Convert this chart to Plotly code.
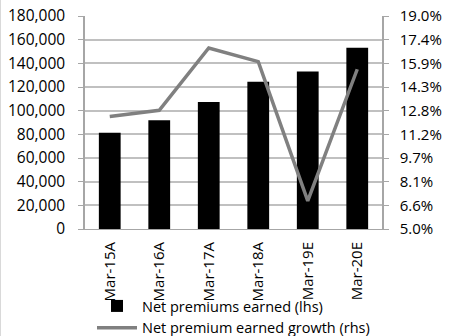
import plotly.graph_objects as go

categories = ["Mar-15A", "Mar-16A", "Mar-17A", "Mar-18A", "Mar-19E", "Mar-20E"]
premiums = [81400, 91800, 107300, 124500, 133200, 153200]
growth = [12.4, 12.8, 16.9, 16.0, 6.85, 15.5]

left_ticks = list(range(0, 180001, 20000))
right_ticks = [5 + i * 14 / 9 for i in range(10)]
right_labels = [f"{v:.1f}%" for v in right_ticks]

FONT = "Open Sans"
FS = 15
fig = go.Figure()
fig.add_trace(go.Bar(x=categories, y=premiums, name="Net premiums earned (lhs)",
                     marker=dict(color="black", line=dict(width=0)), yaxis="y"))
fig.add_trace(go.Scatter(x=categories, y=growth, name="Net premium earned growth (rhs)",
                         mode="lines", line=dict(color="#808080", width=3.5), yaxis="y2"))

W, H = 454, 336
L, R, T, B = 85, 72, 16, 107
pw, ph = W - L - R, H - T - B

fig.update_layout(
    width=W, height=H,
    margin=dict(l=L, r=R, t=T, b=B, pad=0, autoexpand=False),
    paper_bgcolor="white", plot_bgcolor="white",
    font=dict(family=FONT, size=FS, color="black"),
    bargap=0.56,
    showlegend=True,
    legend=dict(orientation="v", x=92 / W, xanchor="left", xref="container",
                y=1 - 290 / H, yanchor="top", yref="container",
                font=dict(size=14.5, family=FONT), tracegroupgap=0, itemwidth=40,
                bgcolor="rgba(0,0,0,0)"),
    xaxis=dict(tickangle=-90, showgrid=False, showline=True, linecolor="#a6a6a6",
               linewidth=1, ticks="", tickfont=dict(size=15), automargin=False,
               ticklabelstandoff=6),
    yaxis=dict(range=[0, 180000], tickvals=left_ticks,
               ticktext=[f"{v:,}" for v in left_ticks],
               showgrid=True, gridcolor="#c0c0c0", gridwidth=1.5,
               showline=True, linecolor="#a6a6a6", linewidth=1.5,
               ticks="outside", ticklen=5, tickcolor="#a6a6a6",
               zeroline=False, tickfont=dict(size=15.5), automargin=False,
               ticklabelstandoff=10),
    yaxis2=dict(range=[5, 19], tickvals=right_ticks, ticktext=right_labels,
                overlaying="y", side="right", showgrid=False,
                showline=True, linecolor="#a6a6a6", linewidth=1.5,
                ticks="outside", ticklen=5, tickcolor="#a6a6a6",
                zeroline=False, tickfont=dict(size=FS), automargin=False,
                ticklabelstandoff=8),
    shapes=[dict(type="line", xref="paper", yref="paper",
                 x0=-(L - 0.5) / pw, x1=-(L - 0.5) / pw, y0=-B / ph, y1=(ph + T) / ph,
                 line=dict(color="#d9d9d9", width=1))],
)

fig.write_html("out.html")
